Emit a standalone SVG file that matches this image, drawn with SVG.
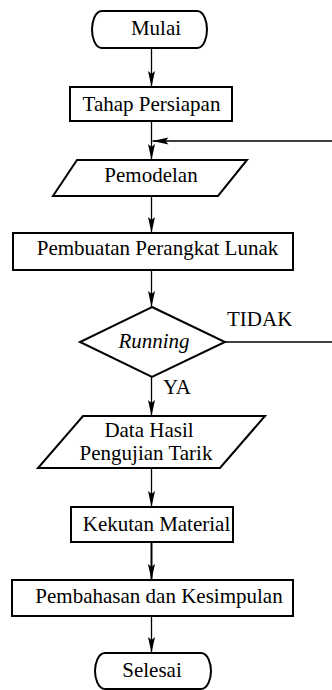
<svg xmlns="http://www.w3.org/2000/svg" width="332" height="690" viewBox="0 0 332 690">
<defs>
<style>
.shape{fill:#fff;stroke:#000;stroke-width:2}
.conn{fill:none;stroke:#000;stroke-width:1.3}
.thick{stroke-width:2}
.t{font-family:"Liberation Serif","Times New Roman",serif;font-size:21px;fill:#000}
.c{text-anchor:middle}
.i{font-style:italic}
</style>
<marker id="arr" markerUnits="userSpaceOnUse" markerWidth="17" markerHeight="8" refX="16" refY="3.5" orient="auto">
<path d="M0,0 L16,3.5 L0,7 L3,3.5 Z" fill="#000"/>
</marker>
</defs>
<rect width="332" height="690" fill="#fff"/>
<g id="connectors">
<line class="conn" x1="151.5" y1="48" x2="151.5" y2="87" marker-end="url(#arr)"/>
<line class="conn" x1="151.5" y1="121" x2="151.5" y2="160" marker-end="url(#arr)"/>
<line class="conn" x1="332" y1="141" x2="152.5" y2="141" marker-end="url(#arr)"/>
<line class="conn" x1="151.5" y1="196" x2="151.5" y2="233" marker-end="url(#arr)"/>
<line class="conn" x1="151.5" y1="270" x2="151.5" y2="307" marker-end="url(#arr)"/>
<line class="conn" x1="151.5" y1="377" x2="151.5" y2="416" marker-end="url(#arr)"/>
<line class="conn" x1="225" y1="342" x2="332" y2="342"/>
<line class="conn" x1="151.5" y1="468" x2="151.5" y2="507" marker-end="url(#arr)"/>
<line class="conn thick" x1="151.5" y1="542" x2="151.5" y2="580" marker-end="url(#arr)"/>
<line class="conn" x1="151.5" y1="616" x2="151.5" y2="653" marker-end="url(#arr)"/>
<text class="t" x="227" y="326">TIDAK</text>
<text class="t" x="163" y="394">YA</text>
</g>
<g id="mulai">
<path class="shape" d="M102,11 H197 C204,11 207,22 207,29.5 C207,37 204,48 197,48 H102 C95,48 92,37 92,29.5 C92,22 95,11 102,11 Z"/>
<text class="t c" x="156" y="35">Mulai</text>
</g>
<g id="tahap-persiapan">
<rect class="shape" x="70" y="87" width="162" height="34"/>
<text class="t c" x="151.5" y="111">Tahap Persiapan</text>
</g>
<g id="pemodelan">
<polygon class="shape" points="77,160 247,160 218,196 53,196"/>
<text class="t c" x="151" y="182">Pemodelan</text>
</g>
<g id="pembuatan">
<rect class="shape" x="13" y="233" width="280" height="37"/>
<text class="t c" x="157.5" y="255">Pembuatan Perangkat Lunak</text>
</g>
<g id="running">
<polygon class="shape" points="152,307 225,342 152,377 80,342"/>
<text class="t c i" x="154" y="348">Running</text>
</g>
<g id="data-hasil">
<polygon class="shape" points="83,416 265,416 220,468 38,468"/>
<text class="t c" x="149" y="437">Data Hasil</text>
<text class="t c" x="146" y="460">Pengujian Tarik</text>
</g>
<g id="kekutan">
<rect class="shape" x="71" y="507" width="162" height="35"/>
<text class="t c" x="156.5" y="531">Kekutan Material</text>
</g>
<g id="pembahasan">
<rect class="shape" x="12" y="580" width="281" height="36"/>
<text class="t c" x="159" y="603">Pembahasan dan Kesimpulan</text>
</g>
<g id="selesai">
<path class="shape" d="M105,653 H201 C208,653 211,664 211,671 C211,678 208,689 201,689 H105 C98,689 95,678 95,671 C95,664 98,653 105,653 Z"/>
<text class="t c" x="152" y="677">Selesai</text>
</g>
</svg>
